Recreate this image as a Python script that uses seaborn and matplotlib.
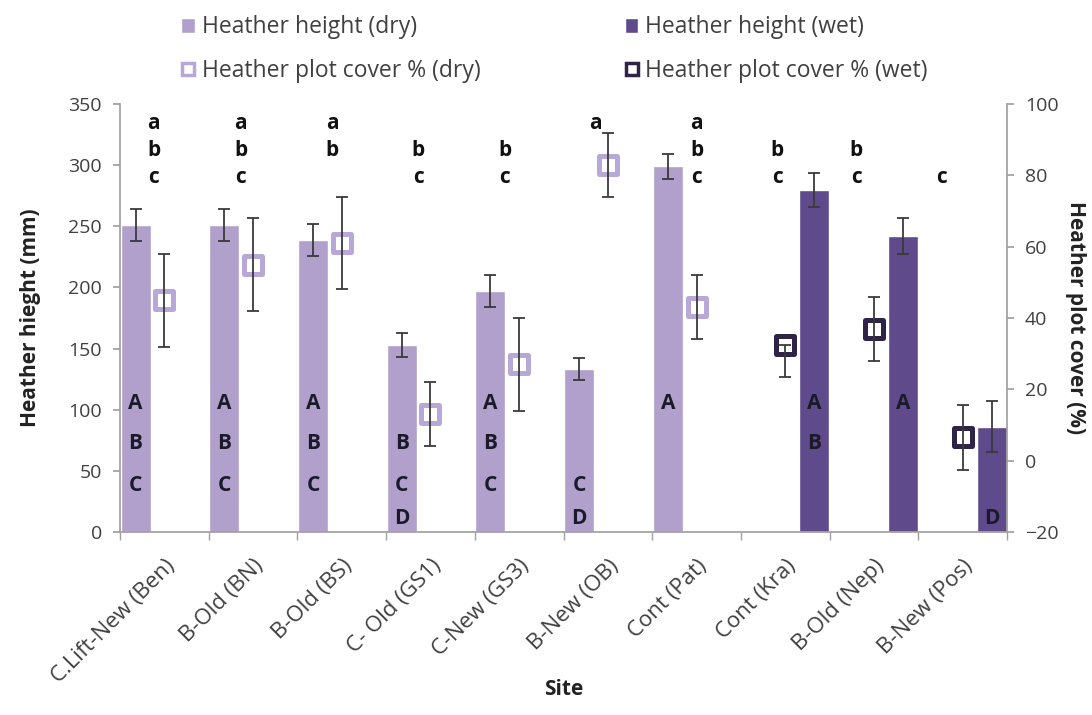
import numpy as np
import pandas as pd
import matplotlib
matplotlib.use("Agg")
import matplotlib.pyplot as plt
import matplotlib.transforms as mtransforms
from matplotlib.lines import Line2D
from matplotlib.patches import Patch
import seaborn as sns

# values
sites = ["C.Lift-New (Ben)", "B-Old (BN)", "B-Old (BS)", "C- Old (GS1)",
         "C-New (GS3)", "B-New (OB)", "Cont (Pat)", "Cont (Kra)",
         "B-Old (Nep)", "B-New (Pos)"]
condition = ["dry"] * 7 + ["wet"] * 3
height = [251, 251, 239, 153, 197, 133, 299, 280, 242, 86]
height_err = [13, 13, 13, 10, 13, 9, 10, 14, 15, 21]
cover = [45, 55, 61, 13, 27, 83, 43, 32.5, 37, 6.5]
cover_err_low = [13, 13, 13, 9, 13, 9, 9, 9, 9, 9]
cover_err_high = [13, 13, 13, 9, 13, 9, 9, 0, 9, 9]
cover_letters = ["abc", "abc", "ab", "bc", "bc", "a", "abc", "bc", "bc", "c"]
height_letters = ["ABC", "ABC", "ABC", "BCD", "ABC", "CD", "A", "AB", "A", "D"]

# layout of the significance letters (left axis units / category offsets)
lower_slot = {"a": 334, "b": 312, "c": 290}
upper_slot = {"A": 105, "B": 72, "C": 38, "D": 11}
letter_shift = [-0.12, -0.14, -0.11, -0.14, -0.16, -0.14, 0.0, -0.09, -0.2, -0.24]

dry_c = "#B1A0CB"
wet_c = "#5F4A8B"
dry_edge = "#B8A8D8"
wet_edge = "#2F2448"
err_c = "#3A3A3A"
txt_c = "#404040"

sns.set_theme(style="ticks")
plt.rcParams["font.family"] = ["Open Sans", "DejaVu Sans"]

fig, ax = plt.subplots(figsize=(10.92, 7.15), dpi=100)
fig.subplots_adjust(left=0.1099, right=0.9222, top=0.8545, bottom=0.256)

df = pd.DataFrame({"site": sites, "cond": condition, "height": height})
sns.barplot(data=df, x="site", y="height", hue="cond", hue_order=["dry", "wet"],
            palette=[dry_c, wet_c], width=1.3, gap=0.48, dodge=True,
            errorbar=None, saturation=1, legend=False, ax=ax, zorder=2)

# bar centres for error bars and letters
bar_x = {}
for p in ax.patches:
    if p.get_height() > 0:
        cx = p.get_x() + p.get_width() / 2
        bar_x[int(round(cx))] = cx

for i in range(len(sites)):
    cx = bar_x[i]
    ax.errorbar(cx, height[i], yerr=height_err[i], fmt="none", ecolor=err_c,
                elinewidth=1.3, capsize=4, capthick=1.3, zorder=3)
    for ch in height_letters[i]:
        ax.text(cx, upper_slot[ch], ch, ha="center", va="center",
                fontsize=15, fontweight="bold", color="#1a1a2a", zorder=4)
    for ch in cover_letters[i]:
        ax.text(i + letter_shift[i], lower_slot[ch], ch, ha="center", va="center",
                fontsize=15, fontweight="bold", color="#111111", zorder=4)

ax.set_ylim(0, 350)
ax.set_xlim(-0.5, len(sites) - 0.5)
ax.set_yticks(np.arange(0, 351, 50))
ax.set_xticks(np.arange(len(sites)))
ax.set_xticklabels(sites, rotation=45, ha="right", rotation_mode="anchor",
                   fontsize=16, color=txt_c)
shift = mtransforms.ScaledTranslation(5 / 100, 0, fig.dpi_scale_trans)
for lab in ax.get_xticklabels():
    lab.set_transform(lab.get_transform() + shift)
ax.set_xticks(np.arange(-0.5, len(sites)), minor=True)
ax.tick_params(axis="x", which="major", length=0, pad=17)
ax.tick_params(axis="x", which="minor", length=6, color="#A0A0A0", width=1)
ax.tick_params(axis="y", length=5, color="#A0A0A0", labelsize=14,
               labelcolor=txt_c, pad=8)
ax.set_xlabel("Site", fontsize=15, fontweight="bold", color="#222222", va="center")
ax.xaxis.set_label_coords(0.5, -0.369)
ax.set_ylabel("Heather hieght (mm)", fontsize=15, fontweight="bold",
              color="#222222", va="center", ha="center")
ax.yaxis.set_label_coords(-0.101, 0.5)
for s in ["left", "bottom"]:
    ax.spines[s].set_color("#A0A0A0")
ax.spines["top"].set_visible(False)
ax.spines["right"].set_visible(False)

ax2 = ax.twinx()
pos = np.arange(len(sites))
cov = pd.DataFrame({"x": pos, "cover": cover, "cond": condition})
for cond, edge in [("dry", dry_edge), ("wet", wet_edge)]:
    sub = cov[cov["cond"] == cond]
    sns.scatterplot(data=sub, x="x", y="cover", marker="s", s=150,
                    color="white", edgecolor=edge, linewidth=3.6,
                    legend=False, ax=ax2, zorder=3)
ax2.errorbar(pos, cover, yerr=[cover_err_low, cover_err_high], fmt="none",
             ecolor=err_c, elinewidth=1.3, capsize=4, capthick=1.3, zorder=4)
ax2.set_ylim(-20, 100)
ax2.set_yticks(np.arange(-20, 101, 20))
ax2.set_xlim(-0.5, len(sites) - 0.5)
ax2.tick_params(axis="y", length=5, color="#A0A0A0", labelsize=14,
                labelcolor=txt_c, pad=8)
ax2.set_ylabel("Heather plot cover (%)", fontsize=15, fontweight="bold",
               color="#222222", rotation=270, va="center", ha="center")
ax2.yaxis.set_label_coords(1.077, 0.5)
ax2.spines["right"].set_color("#A0A0A0")
ax2.spines["top"].set_visible(False)
ax2.spines["left"].set_visible(False)
ax2.spines["bottom"].set_visible(False)
ax2.set_xlabel("")

handles = [
    Patch(facecolor=dry_c, label="Heather height (dry)"),
    Line2D([], [], ls="none", marker="s", ms=9, mfc="white", mec=dry_edge,
           mew=2.5, label="Heather plot cover % (dry)"),
    Patch(facecolor=wet_c, label="Heather height (wet)"),
    Line2D([], [], ls="none", marker="s", ms=9, mfc="white", mec=wet_edge,
           mew=2.5, label="Heather plot cover % (wet)"),
]
leg = fig.legend(handles=handles, ncol=2, loc="upper left",
                 bbox_to_anchor=(0.151, 1.001), frameon=False, fontsize=16.5,
                 handlelength=0.6, handleheight=0.6, handletextpad=0.3,
                 columnspacing=6.3, labelspacing=0.85, borderaxespad=0.3)
for t in leg.get_texts():
    t.set_color(txt_c)

fig.savefig("out.png", dpi=100)
